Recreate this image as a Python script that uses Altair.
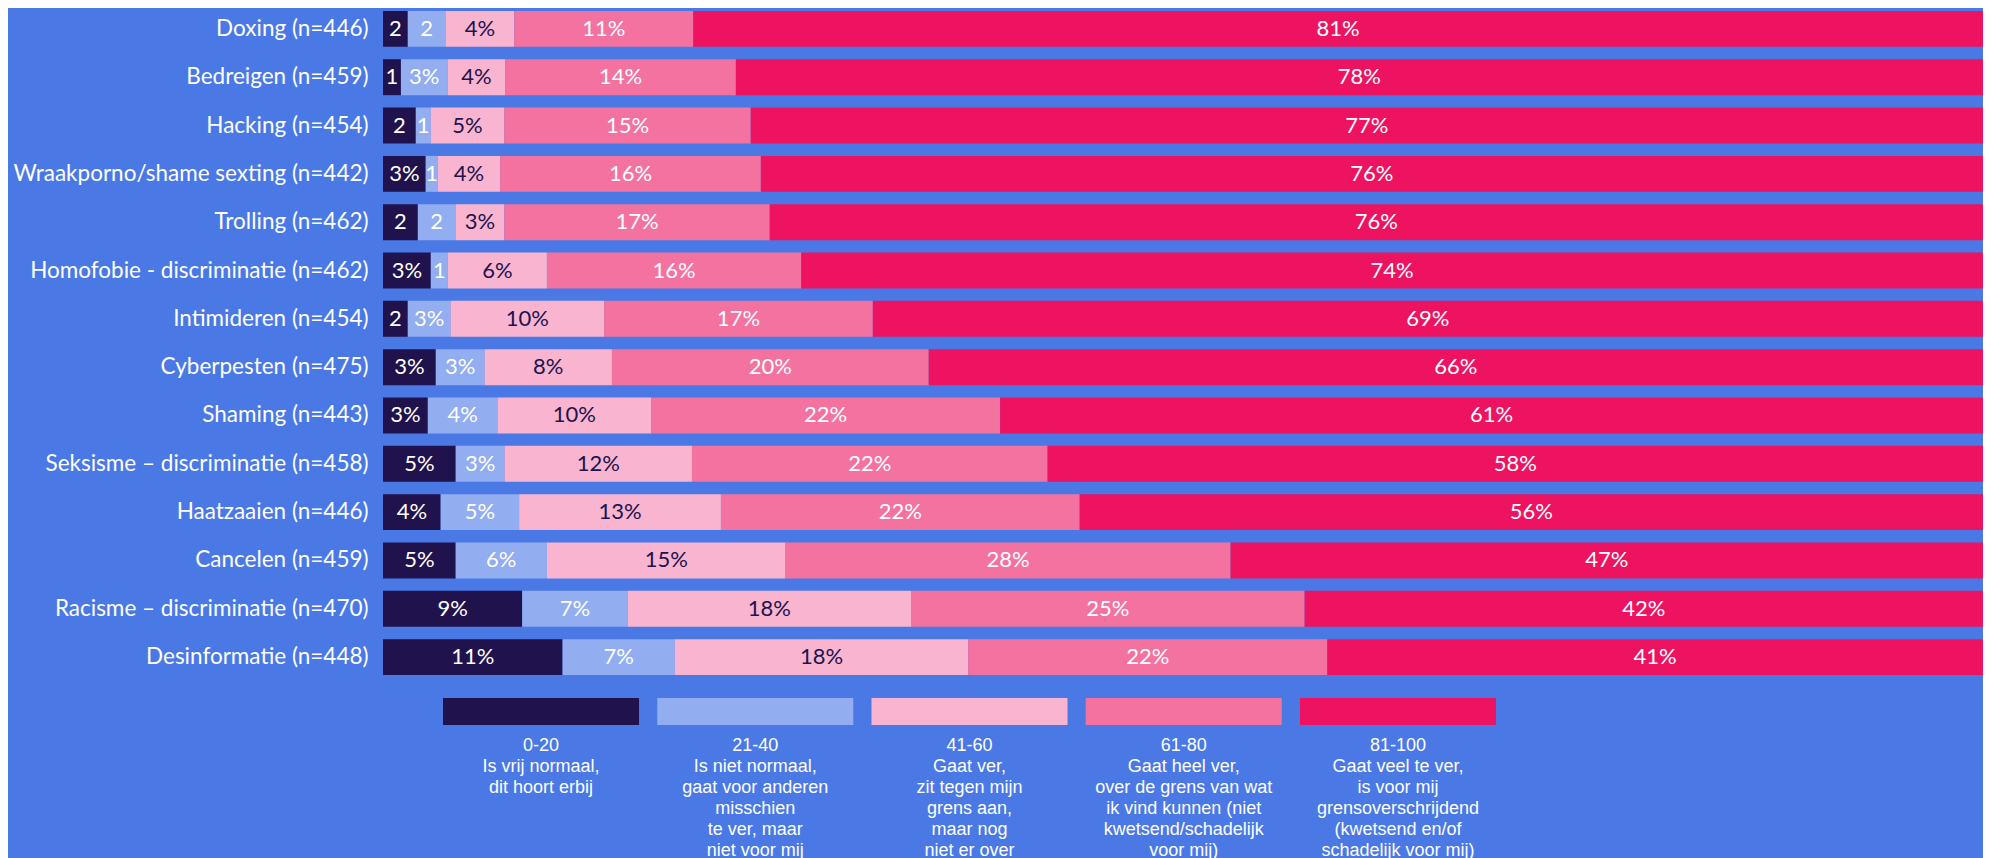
import altair as alt
import pandas as pd

categories = [
    "Doxing (n=446)", "Bedreigen (n=459)", "Hacking (n=454)",
    "Wraakporno/shame sexting (n=442)", "Trolling (n=462)",
    "Homofobie - discriminatie (n=462)", "Intimideren (n=454)",
    "Cyberpesten (n=475)", "Shaming (n=443)",
    "Seksisme – discriminatie (n=458)", "Haatzaaien (n=446)",
    "Cancelen (n=459)", "Racisme – discriminatie (n=470)",
    "Desinformatie (n=448)",
]
levels = ["0-20", "21-40", "41-60", "61-80", "81-100"]
v_0_20 = [1.55, 1.12, 2.05, 2.67, 2.18, 2.99, 1.55, 3.3, 2.8, 4.54, 3.6, 4.54, 8.7, 11.2]
v_21_40 = [2.36, 2.92, 0.93, 0.75, 2.36, 1.06, 2.67, 3.05, 4.35, 3.05, 4.9, 5.7, 6.6, 7.0]
v_41_60 = [4.29, 3.6, 4.6, 3.9, 3.05, 6.2, 9.6, 7.96, 9.6, 11.7, 12.6, 14.9, 17.7, 18.3]
v_61_80 = [11.19, 14.4, 15.4, 16.3, 16.6, 15.9, 16.8, 19.8, 21.8, 22.2, 22.4, 27.8, 24.6, 22.4]
v_81_100 = [80.6, 77.9, 77.0, 76.4, 75.9, 73.9, 69.4, 65.9, 61.4, 58.4, 56.4, 47.0, 42.4, 40.9]
series = [v_0_20, v_21_40, v_41_60, v_61_80, v_81_100]

legend_texts = [
    "0-20\nIs vrij normaal,\ndit hoort erbij",
    "21-40\nIs niet normaal,\ngaat voor anderen\nmisschien\nte ver, maar\nniet voor mij",
    "41-60\nGaat ver,\nzit tegen mijn\ngrens aan,\nmaar nog\nniet er over",
    "61-80\nGaat heel ver,\nover de grens van wat\nik vind kunnen (niet\nkwetsend/schadelijk\nvoor mij)",
    "81-100\nGaat veel te ver,\nis voor mij\ngrensoverschrijdend\n(kwetsend en/of\nschadelijk voor mij)",
]

colors = ["#20124d", "#92adf0", "#f9b5cf", "#f472a0", "#ee1360"]
BG = "#4a79e6"
DARK = "#20124d"

rows = []
for li, (lev, vals) in enumerate(zip(levels, series)):
    for cat, v in zip(categories, vals):
        rows.append({"category": cat, "level": lev, "order": li, "value": v})
df = pd.DataFrame(rows)

base = alt.Chart(df).transform_stack(
    stack="value",
    groupby=["category"],
    as_=["x0", "x1"],
    offset="normalize",
    sort=[alt.SortField("order", order="ascending")],
)

y_enc = alt.Y(
    "category:N",
    sort=categories,
    scale=alt.Scale(paddingInner=0.256, paddingOuter=0.06),
    axis=alt.Axis(
        title=None, domain=False, ticks=False, labelColor="white",
        labelFont="Lato", labelFontSize=22.5, labelPadding=15, labelLimit=600,
        minExtent=375, maxExtent=375,
    ),
)

bars = base.mark_bar().encode(
    x=alt.X("x0:Q", scale=alt.Scale(domain=[0, 1], nice=False), axis=None),
    x2="x1:Q",
    y=y_enc,
    color=alt.Color("level:N", scale=alt.Scale(domain=levels, range=colors), legend=None),
)

labels = base.transform_calculate(
    mid="(datum.x0 + datum.x1) / 2",
    lbl="datum.value >= 2.5 ? format(datum.value, '.0f') + '%' : format(datum.value, '.0f')",
).mark_text(font="Lato", fontSize=22, align="center", baseline="middle").encode(
    x=alt.X("mid:Q", scale=alt.Scale(domain=[0, 1], nice=False), axis=None),
    y=alt.Y("category:N", sort=categories),
    text="lbl:N",
    color=alt.condition(alt.datum.level == "41-60", alt.value(DARK), alt.value("white")),
)

main = alt.layer(bars, labels).properties(width=1600, height=670)

leg_df = pd.DataFrame({"level": levels, "label": legend_texts})
leg_x = alt.X("level:N", sort=levels,
              scale=alt.Scale(range=[60, 1113], paddingInner=0.085, paddingOuter=0),
              axis=None)
leg_rect = alt.Chart(leg_df).mark_rect().encode(
    x=leg_x,
    y=alt.value(0),
    y2=alt.value(27),
    color=alt.Color("level:N", scale=alt.Scale(domain=levels, range=colors), legend=None),
)
leg_text = alt.Chart(leg_df).mark_text(
    font="Liberation Sans Narrow, Arial Narrow, Liberation Sans, Arial",
    fontSize=18, lineHeight=21, lineBreak="\n", align="center", baseline="top",
    color="white",
).encode(
    x=leg_x,
    y=alt.value(39),
    text="label:N",
)
legend = alt.layer(leg_rect, leg_text).properties(width=1600, height=141)

chart = alt.vconcat(main, legend, spacing=20, bounds="flush").properties(
    padding=0
).configure(background=BG).configure_view(stroke=None)

chart.save("out.html", embed_options={"renderer": "svg", "actions": False})
